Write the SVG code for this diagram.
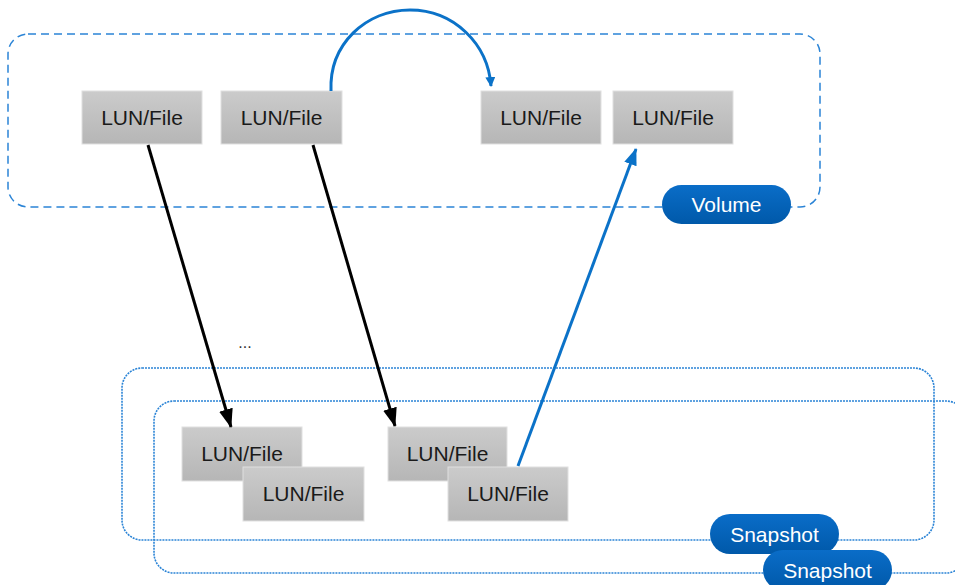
<svg xmlns="http://www.w3.org/2000/svg" width="955" height="585" viewBox="0 0 955 585">
  <style>
    .node rect { fill: url(#boxFill); stroke: #e0e0e0; stroke-width: 1; }
    .node text { font-family: "Liberation Sans", Arial, sans-serif; font-size: 21px; fill: #1a1a1a; text-anchor: middle; }
    .pill rect { fill: url(#pillFill); }
    .pill text { font-family: "Liberation Sans", Arial, sans-serif; font-size: 21px; fill: #ffffff; text-anchor: middle; }
    .vol { fill: none; stroke: #2b84d6; stroke-width: 1.5; stroke-dasharray: 8 5; }
    .snap { fill: none; stroke: #2b84d6; stroke-width: 1.6; stroke-dasharray: 2 1; }
    .black { fill: none; stroke: #000000; stroke-width: 3; }
    .blue { fill: none; stroke: #0b72c8; stroke-width: 3; }
  </style>
  <defs>
    <linearGradient id="boxFill" x1="0" y1="0" x2="0" y2="1">
      <stop offset="0" stop-color="#cbcbcb"/>
      <stop offset="1" stop-color="#b6b6b6"/>
    </linearGradient>
    <linearGradient id="pillFill" x1="0" y1="0" x2="0" y2="1">
      <stop offset="0" stop-color="#0a6dc8"/>
      <stop offset="1" stop-color="#0059a9"/>
    </linearGradient>
    <marker id="arrowBlack" markerWidth="19" markerHeight="15" viewBox="0 0 19 15" refX="18" refY="7.5" orient="auto" markerUnits="userSpaceOnUse">
      <path d="M0,0.5 L19,7.5 L0,14.5 Z" fill="#000000"/>
    </marker>
    <marker id="arrowBlue" markerWidth="17" markerHeight="14" viewBox="0 0 17 14" refX="16" refY="7" orient="auto" markerUnits="userSpaceOnUse">
      <path d="M0,0.5 L17,7 L0,13.5 Z" fill="#0b72c8"/>
    </marker>
    <marker id="arrowBlueSmall" markerWidth="10" markerHeight="10" viewBox="0 0 10 10" refX="9" refY="5" orient="auto" markerUnits="userSpaceOnUse">
      <path d="M0,0 L10,5 L0,10 Z" fill="#0b72c8"/>
    </marker>
  </defs>

  <rect width="955" height="585" fill="#ffffff"/>

  <!-- containers -->
  <g id="volume">
    <rect class="vol" x="8" y="34" width="812" height="173" rx="20"/>
  </g>
  <g id="snapshot-1">
    <rect class="snap" x="122" y="368" width="812" height="172" rx="20"/>
  </g>
  <g id="snapshot-2">
    <rect class="snap" x="154" y="401" width="812" height="172" rx="20"/>
  </g>

  <!-- volume LUN/File nodes -->
  <g id="vol-lun-1" class="node">
    <rect x="82" y="91" width="120" height="53"/>
    <text x="142" y="125">LUN/File</text>
  </g>
  <g id="vol-lun-2" class="node">
    <rect x="221" y="91" width="121" height="53"/>
    <text x="281.5" y="125">LUN/File</text>
  </g>
  <g id="vol-lun-3" class="node">
    <rect x="481" y="91" width="120" height="53"/>
    <text x="541" y="125">LUN/File</text>
  </g>
  <g id="vol-lun-4" class="node">
    <rect x="613" y="91" width="120" height="53"/>
    <text x="673" y="125">LUN/File</text>
  </g>

  <!-- snapshot LUN/File nodes -->
  <g id="snap-lun-a1" class="node">
    <rect x="182" y="427" width="120" height="54"/>
    <text x="242" y="461">LUN/File</text>
  </g>
  <g id="snap-lun-a2" class="node">
    <rect x="243" y="467" width="121" height="54"/>
    <text x="303.5" y="501">LUN/File</text>
  </g>
  <g id="snap-lun-b1" class="node">
    <rect x="388" y="427" width="119" height="54"/>
    <text x="447.5" y="461">LUN/File</text>
  </g>
  <g id="snap-lun-b2" class="node">
    <rect x="448" y="467" width="120" height="54"/>
    <text x="508" y="501">LUN/File</text>
  </g>

  <text x="245" y="348" font-family="Liberation Sans, Arial, sans-serif" font-size="16" fill="#333333" text-anchor="middle">...</text>

  <!-- connectors -->
  <g id="connectors">
    <path class="black" d="M148,145 L231,427" marker-end="url(#arrowBlack)"/>
    <path class="black" d="M313,145 L395,426" marker-end="url(#arrowBlack)"/>
    <path class="blue" d="M518,466 L636,149" marker-end="url(#arrowBlue)"/>
    <path class="blue" d="M331,91 C329,44 366,10 410,10 C454,10 488,44 491,86" marker-end="url(#arrowBlueSmall)"/>
  </g>

  <!-- labels -->
  <g id="volume-label" class="pill">
    <rect x="662" y="185" width="129" height="39" rx="19.5"/>
    <text x="726.5" y="212">Volume</text>
  </g>
  <g id="snapshot-label-1" class="pill">
    <rect x="710" y="514" width="129" height="40" rx="20"/>
    <text x="774.5" y="541.5">Snapshot</text>
  </g>
  <g id="snapshot-label-2" class="pill">
    <rect x="763" y="550" width="129" height="40" rx="20"/>
    <text x="827.5" y="577.5">Snapshot</text>
  </g>
</svg>
